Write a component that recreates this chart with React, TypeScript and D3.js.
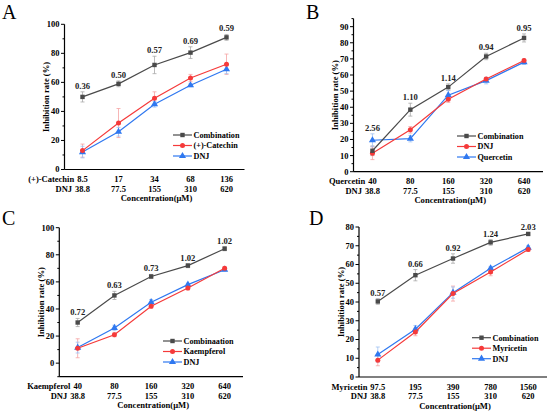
import React, { useEffect, useRef } from 'react';
import * as d3 from 'd3';

// panel A: (+)-Catechin
const concA = ['8.5', '17', '34', '68', '136'];
const dnjConcA = ['38.8', '77.5', '155', '310', '620'];
const combA = [50, 59, 72, 80.5, 91];
const combErrA = [3.5, 2, 6, 4, 2];
const catechin = [13, 32, 49, 63, 72.5];
const catechinErr = [4.5, 10, 4.5, 2.5, 7];
const dnjA = [12, 26, 45, 58, 69];
const dnjErrA = [4, 3, 2, 1, 3];
const ratioA = ['0.36', '0.50', '0.57', '0.69', '0.59'];

// panel B: Quercetin
const concB = ['40', '80', '160', '320', '640'];
const dnjConcB = ['38.8', '77.5', '155', '310', '620'];
const combB = [13, 38.5, 52.5, 71.5, 83];
const combErrB = [3, 4, 2, 2, 2.5];
const dnjB = [11.5, 26, 45, 57.5, 69];
const dnjErrB = [4, 2, 2, 1, 1];
const quercetin = [19.5, 20.5, 47.5, 56.5, 68];
const quercetinErr = [4, 2, 3, 2, 1.5];
const ratioB = ['2.56', '1.10', '1.14', '0.94', '0.95'];

// panel C: Kaempferol
const concC = ['40', '80', '160', '320', '640'];
const dnjConcC = ['38.8', '77.5', '155', '310', '620'];
const combC = [30, 50, 64, 72, 84.5];
const combErrC = [3, 3, 1.5, 1.5, 1.5];
const kaempferol = [11, 21, 42, 55.5, 70];
const kaempferolErr = [7, 1.5, 1.5, 1.5, 1];
const dnjC = [11.5, 26, 45, 58, 69];
const dnjErrC = [4, 2, 2, 1, 1];
const ratioC = ['0.72', '0.63', '0.73', '1.02', '1.02'];

// panel D: Myricetin
const concD = ['97.5', '195', '390', '780', '1560'];
const dnjConcD = ['38.8', '77.5', '155', '310', '620'];
const combD = [40.3, 54.3, 63.2, 71.8, 76.3];
const combErrD = [1.5, 3, 2.5, 1.5, 0.5];
const myricetin = [9, 24, 44.5, 56, 68];
const myricetinErr = [3, 2, 4, 2, 1];
const dnjD = [12, 25.5, 45, 58, 69];
const dnjErrD = [4, 2, 3, 1, 1];
const ratioD = ['0.57', '0.66', '0.92', '1.24', '2.03'];

const GRAY = '#4a4a4a', RED = '#f53a3a', BLUE = '#2f78f0';
const GRAY_ERR = '#a8a8a8', RED_ERR = '#f5a3a3', BLUE_ERR = '#9fc2f3';
const FONT = '"Liberation Serif", "Times New Roman", serif';

type Series = { name: string; values: number[]; errs: number[]; color: string; errColor: string; shape: string };

const panels = [
  {
    letter: 'A', lx: 2, ly: 19, compound: '(+)-Catechin', conc: concA, dnjConc: dnjConcA, ratios: ratioA,
    left: 64.5, right: 244.5, top: 24.3, bottom: 169.5, yMin: 0, yMax: 100, yTicks: d3.range(0, 101, 20), minor: 10,
    legX: 173, legY: 135,
    series: [
      { name: 'Combination', values: combA, errs: combErrA, color: GRAY, errColor: GRAY_ERR, shape: 'square' },
      { name: ' (+)-Catechin', values: catechin, errs: catechinErr, color: RED, errColor: RED_ERR, shape: 'circle' },
      { name: 'DNJ', values: dnjA, errs: dnjErrA, color: BLUE, errColor: BLUE_ERR, shape: 'triangle' },
    ] as Series[],
  },
  {
    letter: 'B', lx: 306, ly: 19, compound: 'Quercetin', conc: concB, dnjConc: dnjConcB, ratios: ratioB,
    left: 353.5, right: 543, top: 18.6, bottom: 171.7, yMin: 0, yMax: 95, yTicks: d3.range(0, 91, 10), minor: 5,
    legX: 457, legY: 136,
    series: [
      { name: 'Combination', values: combB, errs: combErrB, color: GRAY, errColor: GRAY_ERR, shape: 'square' },
      { name: ' DNJ', values: dnjB, errs: dnjErrB, color: RED, errColor: RED_ERR, shape: 'circle' },
      { name: 'Quercetin', values: quercetin, errs: quercetinErr, color: BLUE, errColor: BLUE_ERR, shape: 'triangle' },
    ] as Series[],
  },
  {
    letter: 'C', lx: 2, ly: 225, compound: 'Kaempferol', conc: concC, dnjConc: dnjConcC, ratios: ratioC,
    left: 59.3, right: 243, top: 227.7, bottom: 376.7, yMin: -10, yMax: 100, yTicks: d3.range(0, 101, 20), minor: 10,
    legX: 163, legY: 341,
    series: [
      { name: 'Combinaation', values: combC, errs: combErrC, color: GRAY, errColor: GRAY_ERR, shape: 'square' },
      { name: 'Kaempferol', values: kaempferol, errs: kaempferolErr, color: RED, errColor: RED_ERR, shape: 'circle' },
      { name: 'DNJ', values: dnjC, errs: dnjErrC, color: BLUE, errColor: BLUE_ERR, shape: 'triangle' },
    ] as Series[],
  },
  {
    letter: 'D', lx: 309, ly: 225, compound: 'Myricetin', conc: concD, dnjConc: dnjConcD, ratios: ratioD,
    left: 359, right: 547, top: 227, bottom: 377, yMin: 0, yMax: 80, yTicks: d3.range(0, 81, 10), minor: 5,
    legX: 472, legY: 337.7,
    series: [
      { name: 'Combination', values: combD, errs: combErrD, color: GRAY, errColor: GRAY_ERR, shape: 'square' },
      { name: 'Myricetin', values: myricetin, errs: myricetinErr, color: RED, errColor: RED_ERR, shape: 'circle' },
      { name: 'DNJ', values: dnjD, errs: dnjErrD, color: BLUE, errColor: BLUE_ERR, shape: 'triangle' },
    ] as Series[],
  },
];

const drawMarker = (g: any, shape: string, x: number, y: number, color: string) => {
  if (shape === 'square') {
    g.append('rect').attr('x', x - 2.2).attr('y', y - 2.2).attr('width', 4.4).attr('height', 4.4).attr('fill', color);
  } else if (shape === 'circle') {
    g.append('circle').attr('cx', x).attr('cy', y).attr('r', 2.5).attr('fill', color);
  } else {
    g.append('path').attr('d', d3.symbol(d3.symbolTriangle, 22)()).attr('transform', `translate(${x},${y})`).attr('fill', color);
  }
};

const App = () => {
  const ref = useRef(null);

  useEffect(() => {
    const svg = d3.select(ref.current);
    svg.selectAll('*').remove();

    panels.forEach(p => {
      const g = svg.append('g');
      const x = d3.scaleLinear().domain([0.5, 5.5]).range([p.left, p.right]);
      const y = d3.scaleLinear().domain([p.yMin, p.yMax]).range([p.bottom, p.top]);
      const idx = d3.range(1, 6);

      g.append('text').attr('x', p.lx).attr('y', p.ly).attr('font-size', 20).attr('font-family', FONT).text(p.letter);

      // axes
      g.append('line').attr('x1', p.left).attr('x2', p.left).attr('y1', p.bottom).attr('y2', p.top).attr('stroke', '#000').attr('stroke-width', 1.2);
      g.append('line').attr('x1', p.left).attr('x2', p.right).attr('y1', p.bottom).attr('y2', p.bottom).attr('stroke', '#000').attr('stroke-width', 1.2);

      d3.range(p.yMin, p.yMax + 0.01, p.minor).forEach(v => {
        const major = p.yTicks.includes(v);
        g.append('line').attr('x1', p.left).attr('x2', p.left - (major ? 3.5 : 2)).attr('y1', y(v)).attr('y2', y(v)).attr('stroke', '#000').attr('stroke-width', 1);
      });
      g.selectAll('.ytick').data(p.yTicks).enter().append('text')
        .attr('x', p.left - 5).attr('y', d => y(d)).attr('dy', '0.35em').attr('text-anchor', 'end')
        .attr('font-size', 8.5).attr('font-weight', 'bold').attr('font-family', FONT).text(d => d);

      g.append('text').attr('transform', `translate(${p.left - 18.5},${(p.top + p.bottom) / 2}) rotate(-90)`)
        .attr('text-anchor', 'middle').attr('dy', '0.35em').attr('font-size', 8.6).attr('font-weight', 'bold').attr('font-family', FONT)
        .text('Inhibition rate (%)');

      // x tick labels, two rows, with the compound names to the left of the first column
      const row1 = p.bottom + 12.5, row2 = p.bottom + 22;
      const t1 = g.selectAll('.xt1').data(p.conc).enter().append('text')
        .attr('x', (d, i) => x(i + 1)).attr('y', row1).attr('text-anchor', 'middle')
        .attr('font-size', 8.5).attr('font-weight', 'bold').attr('font-family', FONT).text(d => d);
      const t2 = g.selectAll('.xt2').data(p.dnjConc).enter().append('text')
        .attr('x', (d, i) => x(i + 1)).attr('y', row2).attr('text-anchor', 'middle')
        .attr('font-size', 8.5).attr('font-weight', 'bold').attr('font-family', FONT).text(d => d);
      const w1 = (t1.node() as SVGTextElement).getComputedTextLength();
      const w2 = (t2.node() as SVGTextElement).getComputedTextLength();
      g.append('text').attr('x', x(1) - w1 / 2 - 3).attr('y', row1).attr('text-anchor', 'end')
        .attr('font-size', 8.5).attr('font-weight', 'bold').attr('font-family', FONT).text(p.compound);
      g.append('text').attr('x', x(1) - w2 / 2 - 3).attr('y', row2).attr('text-anchor', 'end')
        .attr('font-size', 8.5).attr('font-weight', 'bold').attr('font-family', FONT).text('DNJ');
      g.append('text').attr('x', x(3) + 2).attr('y', p.bottom + 31.5).attr('text-anchor', 'middle')
        .attr('font-size', 8.6).attr('font-weight', 'bold').attr('font-family', FONT).text('Concentration(μM)');

      // error bars
      p.series.forEach(s => {
        s.values.forEach((v, i) => {
          const cx = x(i + 1), e = s.errs[i];
          g.append('line').attr('x1', cx).attr('x2', cx).attr('y1', y(v - e)).attr('y2', y(v + e)).attr('stroke', s.errColor).attr('stroke-width', 0.8);
          [v - e, v + e].forEach(t => {
            g.append('line').attr('x1', cx - 2).attr('x2', cx + 2).attr('y1', y(t)).attr('y2', y(t)).attr('stroke', s.errColor).attr('stroke-width', 0.8);
          });
        });
      });

      // lines and markers
      const line = d3.line<number>().x((d, i) => x(i + 1)).y(d => y(d));
      [...p.series].reverse().forEach(s => {
        g.append('path').attr('d', line(s.values)).attr('fill', 'none').attr('stroke', s.color).attr('stroke-width', 1.2);
        s.values.forEach((v, i) => drawMarker(g, s.shape, x(i + 1), y(v), s.color));
      });

      // combination index labels
      idx.forEach((k, i) => {
        const top = d3.max(p.series, s => s.values[i] + s.errs[i]) as number;
        g.append('text').attr('x', x(k)).attr('y', y(top) - 3).attr('text-anchor', 'middle')
          .attr('font-size', 8.6).attr('font-weight', 'bold').attr('font-family', FONT).attr('fill', '#222').text(p.ratios[i]);
      });

      // legend
      p.series.forEach((s, i) => {
        const ly = p.legY + i * 10.5;
        g.append('line').attr('x1', p.legX).attr('x2', p.legX + 19).attr('y1', ly).attr('y2', ly).attr('stroke', s.color).attr('stroke-width', 1.2);
        drawMarker(g, s.shape, p.legX + 9.5, ly, s.color);
        g.append('text').attr('x', p.legX + 20.5).attr('y', ly).attr('dy', '0.35em')
          .attr('font-size', 8.2).attr('font-weight', 'bold').attr('font-family', FONT).text(s.name);
      });
    });
  }, []);

  return (
    <svg ref={ref} width={550} height={411} style={{ position: 'absolute', left: 0, top: 0, background: '#fff' }} />
  );
};

export default App;
